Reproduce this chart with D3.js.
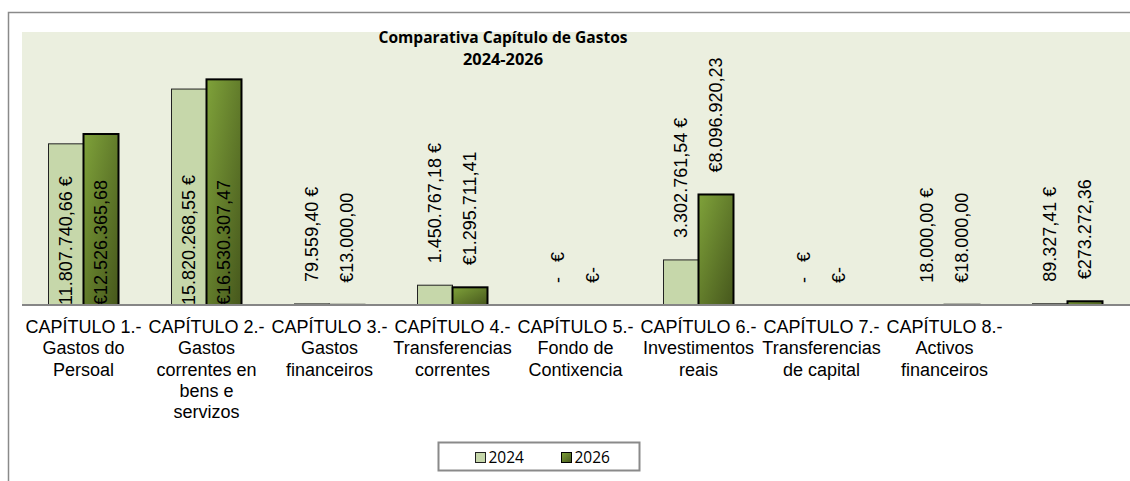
<!DOCTYPE html>
<html>
<head>
<meta charset="utf-8">
<script src="https://cdn.jsdelivr.net/npm/d3@7"></script>
<style>
  html, body { margin: 0; padding: 0; background: #fff; }
  svg { display: block; }
</style>
</head>
<body>
<div id="chart"></div>
<script>
const WIDTH = 1130
const HEIGHT = 481

// chart data
const categories = [
  'CAPÍTULO 1.- Gastos do Persoal',
  'CAPÍTULO 2.- Gastos correntes en bens e servizos',
  'CAPÍTULO 3.- Gastos financeiros',
  'CAPÍTULO 4.- Transferencias correntes',
  'CAPÍTULO 5.- Fondo de Contixencia',
  'CAPÍTULO 6.- Investimentos reais',
  'CAPÍTULO 7.- Transferencias de capital',
  'CAPÍTULO 8.- Activos financeiros',
  ''
]
const categoryLines = [
  ['CAPÍTULO 1.-', 'Gastos do', 'Persoal'],
  ['CAPÍTULO 2.-', 'Gastos', 'correntes en', 'bens e', 'servizos'],
  ['CAPÍTULO 3.-', 'Gastos', 'financeiros'],
  ['CAPÍTULO 4.-', 'Transferencias', 'correntes'],
  ['CAPÍTULO 5.-', 'Fondo de', 'Contixencia'],
  ['CAPÍTULO 6.-', 'Investimentos', 'reais'],
  ['CAPÍTULO 7.-', 'Transferencias', 'de capital'],
  ['CAPÍTULO 8.-', 'Activos', 'financeiros'],
  []
]
const seriesNames = ['2024', '2026']
const values2024 = [11807740.66, 15820268.55, 79559.40, 1450767.18, 0, 3302761.54, 0, 18000.00, 89327.41]
const values2026 = [12526365.68, 16530307.47, 13000.00, 1295711.41, 0, 8096920.23, 0, 18000.00, 273272.36]
const titleLines = ['Comparativa Capítulo de Gastos', '2024-2026']

const locale = d3.formatLocale({ decimal: ',', thousands: '.', grouping: [3], currency: ['€', ''] })
const num = locale.format(',.2f')
const labelFormats = {
  '2024': v => v === 0 ? '-\u00a0\u00a0\u00a0€' : `${num(v)} €`,
  '2026': v => v === 0 ? '€-' : `€${num(v)}`
}

const rows = categories.map((c, i) => ({
  category: c,
  lines: categoryLines[i],
  values: [
    { series: '2024', value: values2024[i] },
    { series: '2026', value: values2026[i] }
  ]
}))

const plot = { left: 22, right: 1129, top: 32, bottom: 305 }

const svg = d3.select('#chart')
  .append('svg')
  .attr('width', WIDTH)
  .attr('height', HEIGHT)

const defs = svg.append('defs')
const grad = defs.append('linearGradient')
  .attr('id', 'g2026')
  .attr('x1', 0).attr('y1', 0)
  .attr('x2', 1).attr('y2', 1)
grad.append('stop').attr('offset', '0%').attr('stop-color', '#7fa23a')
grad.append('stop').attr('offset', '100%').attr('stop-color', '#46571c')

const fills = { '2024': '#c6d7aa', '2026': 'url(#g2026)' }
const strokes = { '2024': { c: '#222', w: 1 }, '2026': { c: '#000', w: 2 } }

// chart area border (cropped on right / bottom)
svg.append('rect')
  .attr('x', 8.5).attr('y', 12.5)
  .attr('width', WIDTH + 20).attr('height', HEIGHT + 20)
  .attr('fill', '#fff')
  .attr('stroke', '#8a8a8a')
  .attr('stroke-width', 1.5)

// plot area
svg.append('rect')
  .attr('x', plot.left).attr('y', plot.top)
  .attr('width', WIDTH - plot.left).attr('height', plot.bottom - plot.top)
  .attr('fill', '#ebefdf')

const x0 = d3.scaleBand()
  .domain(categories)
  .range([plot.left, plot.right])
  .paddingInner(0.431)
  .paddingOuter(0.2155)

const x1 = d3.scaleBand()
  .domain(seriesNames)
  .range([0, x0.bandwidth()])

const y = d3.scaleLinear()
  .domain([0, 20000000])
  .range([plot.bottom, plot.top])

// bars
const groups = svg.append('g')
  .selectAll('g')
  .data(rows)
  .join('g')
  .attr('transform', d => `translate(${x0(d.category)},0)`)

groups.selectAll('rect')
  .data(d => d.values)
  .join('rect')
  .attr('x', d => x1(d.series))
  .attr('y', d => y(d.value))
  .attr('width', x1.bandwidth())
  .attr('height', d => y(0) - y(d.value))
  .attr('fill', d => fills[d.series])
  .attr('stroke', d => strokes[d.series].c)
  .attr('stroke-width', d => d.value > 0 ? strokes[d.series].w : 0.6)

// axis line
svg.append('line')
  .attr('x1', plot.left).attr('x2', WIDTH)
  .attr('y1', plot.bottom).attr('y2', plot.bottom)
  .attr('stroke', '#868686')
  .attr('stroke-width', 2)

// data labels: outside end, or from the axis up when they don't fit above
const labelGap = 22
groups.selectAll('text.val')
  .data(d => d.values)
  .join('text')
  .attr('class', 'val')
  .attr('font-family', '"Liberation Sans", Arial, sans-serif')
  .attr('font-size', 18)
  .attr('fill', '#000')
  .attr('dy', '0.35em')
  .text(d => labelFormats[d.series](d.value))
  .each(function (d) {
    const len = this.getComputedTextLength()
    let bottom = y(d.value) - labelGap
    if (bottom - len < plot.top) bottom = y(0)
    const cx = x1(d.series) + x1.bandwidth() / 2
    d3.select(this).attr('transform', `translate(${cx},${bottom}) rotate(-90)`)
  })

// category labels
const lineH = 21.25
groups.append('text')
  .attr('font-family', '"Liberation Sans", Arial, sans-serif')
  .attr('font-size', 18)
  .attr('fill', '#000')
  .attr('text-anchor', 'middle')
  .selectAll('tspan')
  .data(d => d.lines)
  .join('tspan')
  .attr('x', x0.bandwidth() / 2)
  .attr('y', (d, i) => 333 + i * lineH)
  .text(d => d)

// title
const titleWidths = [249, 80]
svg.append('text')
  .attr('font-family', '"Open Sans", sans-serif')
  .attr('font-weight', 'bold')
  .attr('font-size', 16)
  .attr('text-anchor', 'middle')
  .selectAll('tspan')
  .data(titleLines)
  .join('tspan')
  .attr('x', 503)
  .attr('y', (d, i) => 43 + i * 22)
  .attr('textLength', (d, i) => titleWidths[i])
  .attr('lengthAdjust', 'spacingAndGlyphs')
  .text(d => d)

// legend
const legend = svg.append('g').attr('transform', 'translate(438.5,442.5)')
legend.append('rect')
  .attr('width', 201).attr('height', 28)
  .attr('fill', '#fff')
  .attr('stroke', '#8a8a8a')
  .attr('stroke-width', 2)

const items = legend.selectAll('g.item')
  .data(seriesNames)
  .join('g')
  .attr('class', 'item')
  .attr('transform', (d, i) => `translate(${37 + i * 86},10)`)
items.append('rect')
  .attr('width', 10).attr('height', 10)
  .attr('fill', d => fills[d])
  .attr('stroke', d => strokes[d].c)
  .attr('stroke-width', 1)
items.append('text')
  .attr('x', 13).attr('y', 10)
  .attr('font-family', '"Open Sans", sans-serif')
  .attr('font-size', 15.5)
  .attr('fill', '#000')
  .text(d => d)
</script>
</body>
</html>
